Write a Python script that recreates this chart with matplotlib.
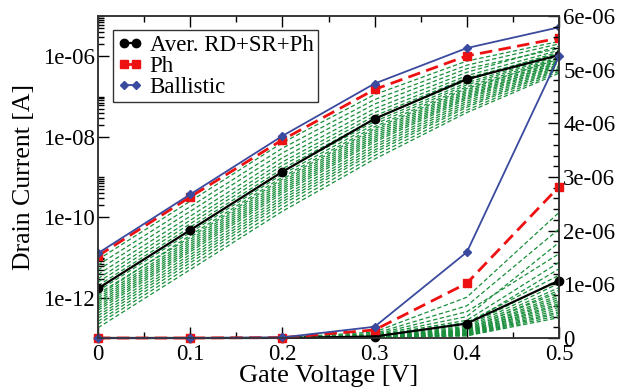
import matplotlib
matplotlib.use("Agg")
import matplotlib.pyplot as plt
from matplotlib.ticker import FixedLocator, FuncFormatter, MultipleLocator

plt.rcParams['font.family'] = ['Liberation Serif', 'DejaVu Serif']

# gate voltage sweep
gate_v = [0.0, 0.1, 0.2, 0.3, 0.4, 0.5]

# averaged RD+SR+Ph, phonon only, ballistic
aver = [1.7e-12, 4.8e-11, 1.35e-09, 2.8e-08, 2.7e-07, 1.07e-06]
ph = [1.1e-11, 3.2e-10, 8.4e-09, 1.5e-07, 1.02e-06, 2.82e-06]
ballistic = [1.28e-11, 3.7e-10, 1.05e-08, 2.1e-07, 1.6e-06, 5.25e-06]

# individual device samples (green dashed)
samples = [
    [8.9e-12, 2.5e-10, 7.1e-09, 1.12e-07, 7.6e-07, 2.34e-06],
    [6.5e-12, 1.83e-10, 5.2e-09, 8.4e-08, 6.0e-07, 2.03e-06],
    [4.9e-12, 1.4e-10, 3.95e-09, 6.5e-08, 4.9e-07, 1.57e-06],
    [3.8e-12, 1.06e-10, 3.0e-09, 5.0e-08, 4.0e-07, 1.78e-06],
    [3.0e-12, 8.4e-11, 2.37e-09, 4.0e-08, 3.3e-07, 1.41e-06],
    [2.45e-12, 6.9e-11, 1.95e-09, 3.3e-08, 2.9e-07, 1.17e-06],
    [2.0e-12, 5.7e-11, 1.6e-09, 2.8e-08, 2.5e-07, 1.29e-06],
    [1.72e-12, 4.85e-11, 1.37e-09, 2.4e-08, 2.2e-07, 1.09e-06],
    [1.47e-12, 4.15e-11, 1.17e-09, 2.06e-08, 1.95e-07, 1.02e-06],
    [1.12e-12, 3.55e-11, 1.0e-09, 1.78e-08, 1.74e-07, 9.4e-07],
    [1.26e-12, 3.16e-11, 8.9e-10, 1.59e-08, 1.59e-07, 8.5e-07],
    [1.0e-12, 2.82e-11, 7.95e-10, 1.43e-08, 1.46e-07, 8.9e-07],
    [8.9e-13, 2.5e-11, 7.05e-10, 1.28e-08, 1.33e-07, 8.0e-07],
    [7.9e-13, 2.22e-11, 6.25e-10, 1.14e-08, 1.22e-07, 7.6e-07],
    [7.0e-13, 1.97e-11, 5.55e-10, 1.02e-08, 1.12e-07, 6.8e-07],
    [6.2e-13, 1.75e-11, 4.95e-10, 9.2e-09, 1.02e-07, 7.2e-07],
    [5.5e-13, 1.56e-11, 4.4e-10, 8.2e-09, 9.4e-08, 6.4e-07],
    [4.9e-13, 1.39e-11, 3.9e-10, 7.4e-09, 8.6e-08, 6.1e-07],
    [4.2e-13, 1.18e-11, 3.3e-10, 6.3e-09, 7.6e-08, 5.7e-07],
    [3.6e-13, 1.01e-11, 2.85e-10, 5.5e-09, 6.8e-08, 5.3e-07],
    [3.1e-13, 8.7e-12, 2.45e-10, 4.7e-09, 6.0e-08, 4.9e-07],
    [2.6e-13, 7.4e-12, 2.1e-10, 4.1e-09, 5.4e-08, 4.6e-07],
    [2.2e-13, 6.1e-12, 1.72e-10, 3.4e-09, 4.6e-08, 4.2e-07],
    [1.8e-13, 5.0e-12, 1.41e-10, 2.8e-09, 4.0e-08, 3.8e-07],
]

GREEN = '#1a8f3c'
BLUE = '#3a4a9e'
RED = '#ee1111'

fig = plt.figure(figsize=(6.21, 3.90), dpi=100)
ax = fig.add_axes([0.1578, 0.1333, 0.7424, 0.8256])
ax2 = ax.twinx()


def draw(a, clip=True):
    for s in samples:
        a.plot(gate_v, s, color=GREEN, lw=0.9, dashes=(3.5, 2), clip_on=clip)
    l1, = a.plot(gate_v, aver, color='black', lw=1.6, marker='o', ms=6, clip_on=clip)
    l2, = a.plot(gate_v, ph, color=RED, lw=2.0, dashes=(4.5, 2.3), marker='s', ms=5.5,
                 clip_on=clip)
    l3, = a.plot(gate_v, ballistic, color=BLUE, lw=1.3, marker='D', ms=4.5, clip_on=clip)
    return l1, l2, l3


# log scale on the left
handles = draw(ax)
ax.set_yscale('log')
ax.set_xlim(0, 0.5)
ax.set_ylim(1e-13, 1e-5)
ax.yaxis.set_major_locator(FixedLocator([1e-14, 1e-12, 1e-10, 1e-08, 1e-06]))
minor = [m * 10.0 ** e for e in (-14, -12, -10, -8, -6) for m in range(2, 11)]
ax.yaxis.set_minor_locator(FixedLocator(minor))
ax.yaxis.set_major_formatter(FuncFormatter(lambda v, p: f"{v:.0e}"))
ax.yaxis.set_minor_formatter(FuncFormatter(lambda v, p: ""))

# linear scale on the right
draw(ax2, clip=False)
ax2.set_ylim(0, 6e-06)
ax2.yaxis.set_major_locator(MultipleLocator(1e-06))
ax2.yaxis.set_minor_locator(MultipleLocator(2e-07))
ax2.yaxis.set_major_formatter(FuncFormatter(lambda v, p: "0" if v == 0 else f"{v:.0e}"))

ax.xaxis.set_major_locator(MultipleLocator(0.1))
ax.xaxis.set_minor_locator(MultipleLocator(0.05))
ax.xaxis.set_major_formatter(FuncFormatter(lambda v, p: f"{v:g}"))

ax.tick_params(axis='x', which='both', direction='in', top=True, labelsize=16.5, pad=4)
ax.tick_params(axis='y', which='both', direction='in', right=False, labelsize=16.5, pad=2)
ax2.tick_params(axis='y', which='both', direction='in', labelsize=16.5, pad=3)
for a in (ax, ax2):
    a.tick_params(which='major', length=8, width=1)
    a.tick_params(which='minor', length=4, width=1)
    for sp in a.spines.values():
        sp.set_linewidth(1.1)
        sp.set_color('#333333')

ax.set_xlabel('Gate Voltage [V]', fontsize=19, labelpad=0)
ax.set_ylabel('Drain Current [A]', fontsize=18.5)
ax.yaxis.set_label_coords(-0.137, 0.5)

leg = ax2.legend(handles, ['Aver. RD+SR+Ph', 'Ph', 'Ballistic'], loc='upper left',
                 bbox_to_anchor=(0.0325, 0.9565), borderaxespad=0, fontsize=16.5,
                 numpoints=2, handlelength=1.1, handletextpad=0.3, labelspacing=0.0,
                 borderpad=0.2, fancybox=False, framealpha=1)
leg.get_frame().set_edgecolor('#333333')
leg.get_frame().set_linewidth(1.0)

fig.savefig('out.png', dpi=100)
